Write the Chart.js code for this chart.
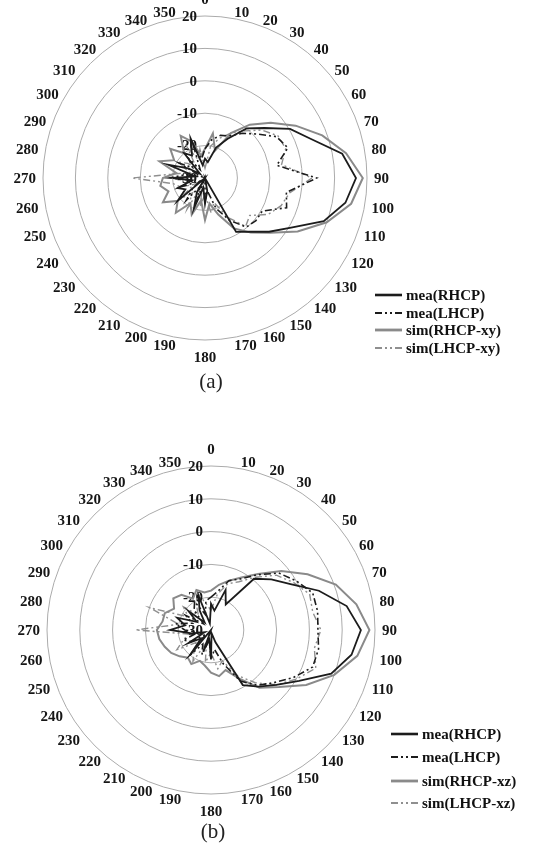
<!DOCTYPE html>
<html><head><meta charset="utf-8">
<script src="https://cdn.jsdelivr.net/npm/chart.js@4.4.1/dist/chart.umd.min.js"></script>
<style>
html,body{margin:0;padding:0;background:#fff;width:537px;height:852px;overflow:hidden;position:relative;}
canvas{position:absolute;left:0;}
.cap{position:absolute;font-family:'Liberation Serif',serif;font-size:21px;color:#222;transform:translate(-50%,-50%);white-space:nowrap;}
.row{position:absolute;height:18px;line-height:18px;white-space:nowrap;font-family:'Liberation Serif',serif;font-weight:bold;font-size:15px;color:#111;}
.row svg{position:absolute;top:6px;}
.row span{position:absolute;top:0;}
</style></head>
<body>
<canvas id="ca" width="537" height="380" style="top:0"></canvas>
<canvas id="cb" width="537" height="412" style="top:440px"></canvas>
<div class="cap" style="left:211px;top:381px">(a)</div>
<div class="cap" style="left:213px;top:831px">(b)</div>
<div id="lega"></div>
<div id="legb"></div>
<script>
// ---- data ----
const angleLabels = ['0','10','20','30','40','50','60','70','80','90','100','110','120','130','140','150','160','170','180','190','200','210','220','230','240','250','260','270','280','290','300','310','320','330','340','350'];
const radialMin = -30;
const radialMax = 20;
const radialStep = 10;

const namesA = ['mea(RHCP)','mea(LHCP)','sim(RHCP-xy)','sim(LHCP-xy)'];
const namesB = ['mea(RHCP)','mea(LHCP)','sim(RHCP-xz)','sim(LHCP-xz)'];

// (a) xy-plane
const meaRHCP_a = [-24,-25,-20,-16,-10,-6,0.3,5,13,16.6,14,9,0.7,-4.2,-8.4,-10.8,-30,-26,-22,-27,-20,-25,-30,-19,-23,-21,-26,-20,-27,-18,-24,-28,-20,-22,-17,-26];
const meaLHCP_a = [-21,-18,-16,-15,-12,-8.9,-4.5,-2.8,-7.5,4.5,-4.5,-3.2,-9.6,-9.5,-10.2,-15,-20,-26,-23,-30,-22,-27,-21,-25,-28,-22,-26,-19,-24,-29,-21,-25,-22,-27,-20,-24];
const simRHCP_a = [-21,-16,-21,-14,-8.5,-3.5,2.3,8.5,14.2,18.7,15.8,10,3,-3.7,-8,-12,-18,-22,-17,-23,-18,-21,-16,-19,-15,-18,-16,-17,-21,-15,-19,-16,-20,-15,-18,-23];
const simLHCP_a = [-27,-20,-17,-14,-11,-7,-4,-3.5,-6,3,-3.5,-5,-7.5,-12,-10.5,-16,-22,-19,-25,-21,-28,-19,-24,-20,-26,-22,-20,-7.5,-22,-25,-20,-23,-26,-19,-24,-21];

// (b) xz-plane
const meaRHCP_b = [-22,-24,-17,-21,-9.6,-6,-2,5,12,15.7,13.5,9,1,-4,-7.5,-10.6,-26,-29,-21,-27,-23,-30,-20,-26,-22,-28,-24,-17.5,-22,-19,-25,-21,-27,-23,-19,-28];
const meaLHCP_b = [-20,-18,-14,-12,-8,-3,0,3,3,2.6,3.3,3,-1,-5,-8,-12,-19,-24,-21,-27,-22,-25,-20,-28,-23,-21,-26,-22,-19,-24,-21,-27,-22,-20,-25,-21];
const simRHCP_b = [-18,-16,-14,-11.5,-7.7,-2,4,10.5,15,18.3,15.3,10,3.5,-3,-7,-13,-17,-15.7,-17,-19,-20,-18,-19,-17.5,-16,-15,-14,-13.5,-15,-15,-17,-15,-16,-19,-17,-18.4];
const simLHCP_b = [-24,-19,-15,-13,-9,-4,-1,2,1.5,3.5,2,4,0,-4,-9,-14,-20,-18,-23,-20,-26,-19,-22,-24,-18,-21,-23,-7,-20,-10,-22,-19,-24,-21,-18,-22];

// ---- styles ----
const styles = [
  {color:'#1c1c1c', width:1.8, dash:[]},
  {color:'#1c1c1c', width:1.6, dash:[7,3,2,3,2,3]},
  {color:'#8a8a8a', width:2.0, dash:[]},
  {color:'#8f8f8f', width:1.4, dash:[7,3,2,3,2,3]}
];

const FONT = '"Liberation Serif", "Times New Roman", serif';

const polarText = {
  id: 'polarText',
  beforeDatasetsDraw(chart) {
    const s = chart.scales.r, ctx = chart.ctx;
    ctx.save();
    ctx.font = 'bold 15px ' + FONT;
    ctx.fillStyle = '#161616';
    ctx.textBaseline = 'middle';
    ctx.textAlign = 'right';
    s.ticks.forEach(t => {
      const d = s.getDistanceFromCenterForValue(t.value);
      ctx.fillText(String(t.value), s.xCenter - 8, s.yCenter - d + 1);
    });
    const n = chart.data.labels.length;
    chart.data.labels.forEach((lab, i) => {
      const p = s.getPointPosition(i, s.drawingArea + 7);
      const deg = i * 360 / n;
      let y = p.y + 1.5, align;
      if (deg === 0) { align = 'center'; y = p.y - 9; }
      else if (deg === 180) { align = 'center'; y = p.y + 11; }
      else align = deg < 180 ? 'left' : 'right';
      ctx.textAlign = align;
      ctx.fillText(lab, p.x, y);
    });
    ctx.restore();
  }
};

function makeChart(id, series, pad) {
  return new Chart(document.getElementById(id), {
    type: 'radar',
    data: {
      labels: angleLabels,
      datasets: series.map((d, k) => ({
        label: d.name,
        data: d.values,
        borderColor: styles[k].color,
        borderWidth: styles[k].width,
        borderDash: styles[k].dash,
        backgroundColor: 'rgba(0,0,0,0)',
        fill: false,
        pointRadius: 0,
        pointHoverRadius: 0,
        tension: 0
      }))
    },
    options: {
      responsive: false,
      devicePixelRatio: 1,
      animation: false,
      layout: { padding: pad },
      plugins: { legend: { display: false }, tooltip: { enabled: false } },
      scales: {
        r: {
          min: radialMin, max: radialMax,
          ticks: { display: false, stepSize: radialStep },
          grid: { circular: true, color: '#ababab', lineWidth: 1 },
          angleLines: { display: false },
          pointLabels: { display: false }
        }
      }
    },
    plugins: [polarText]
  });
}

makeChart('ca', [
  {name: namesA[0], values: meaRHCP_a},
  {name: namesA[1], values: meaLHCP_a},
  {name: namesA[2], values: simRHCP_a},
  {name: namesA[3], values: simLHCP_a}
], {top: 16, bottom: 40, left: 43, right: 170});

makeChart('cb', [
  {name: namesB[0], values: meaRHCP_b},
  {name: namesB[1], values: meaLHCP_b},
  {name: namesB[2], values: simRHCP_b},
  {name: namesB[3], values: simLHCP_b}
], {top: 26, bottom: 58, left: 47, right: 162});

function makeLegend(id, names, rowsY, lineX, textX) {
  const host = document.getElementById(id);
  names.forEach((nm, k) => {
    const st = styles[k];
    const row = document.createElement('div');
    row.className = 'row';
    row.style.left = lineX + 'px';
    row.style.top = (rowsY[k] - 9) + 'px';
    const w = textX - lineX - 4;
    const lw = k === 0 ? 2.6 : (k === 2 ? 2.8 : 1.8);
    row.innerHTML = '<svg width="' + w + '" height="6"><line x1="0" y1="3" x2="' + w + '" y2="3" stroke="' + st.color +
      '" stroke-width="' + lw + '" stroke-dasharray="' + (st.dash.length ? st.dash.join(',') : 'none') + '"/></svg>' +
      '<span style="left:' + (textX - lineX) + 'px">' + nm + '</span>';
    host.appendChild(row);
  });
}
makeLegend('lega', namesA, [295, 313, 330, 348], 375, 406);
makeLegend('legb', namesB, [734, 757, 781, 803], 391, 422);
</script>
</body></html>
